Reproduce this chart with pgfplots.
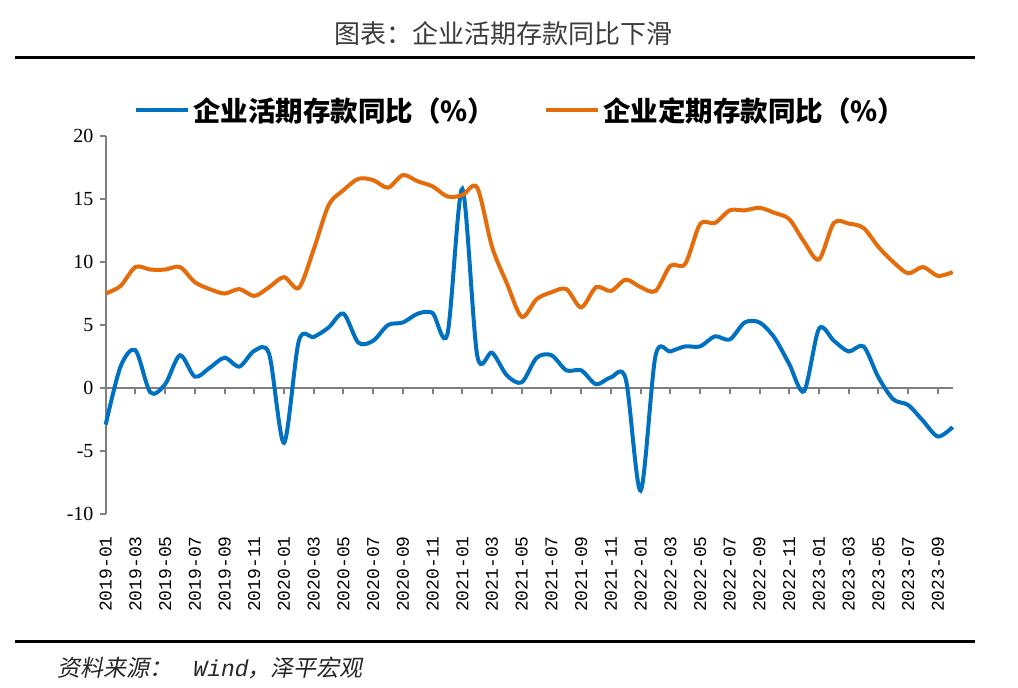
\documentclass[border=0pt]{standalone}
\usepackage{pgfplots}
\pgfplotsset{compat=1.18}
\usepackage{fontspec}
\setmainfont{Liberation Serif}
\setmonofont{Liberation Mono}
\newfontfamily\cjk{Noto Sans CJK SC}
\newfontfamily\cjkit[FakeSlant=0.2]{Noto Sans CJK SC}
\newfontfamily\monoit[FakeSlant=0.2]{Liberation Mono}
\definecolor{axisgray}{RGB}{128,128,128}
\definecolor{cblue}{RGB}{0,112,192}
\definecolor{corange}{RGB}{228,108,10}
\definecolor{titlegray}{RGB}{60,60,60}

\pgfplotstableread{
x y
0 -2.9
1 1.7
2 3.0
3 -0.35
4 0.3
5 2.6
6 0.9
7 1.6
8 2.4
9 1.7
10 2.95
11 2.7
12 -4.35
13 3.75
14 4.05
15 4.8
16 5.9
17 3.6
18 3.75
19 5.0
20 5.2
21 5.9
22 5.95
23 4.3
24 15.8
25 2.6
26 2.8
27 1.0
28 0.45
29 2.4
30 2.6
31 1.4
32 1.4
33 0.3
34 0.85
35 0.7
36 -8.15
37 2.55
38 2.9
39 3.3
40 3.3
41 4.1
42 3.85
43 5.2
44 5.2
45 4.0
46 1.9
47 -0.25
48 4.7
49 3.75
50 2.9
51 3.3
52 0.85
53 -0.9
54 -1.35
55 -2.6
56 -3.85
57 -3.1
}\huoqi

\pgfplotstableread{
x y
0 7.5
1 8.1
2 9.6
3 9.4
4 9.4
5 9.6
6 8.4
7 7.85
8 7.5
9 7.85
10 7.3
11 8.0
12 8.8
13 7.95
14 11.0
15 14.5
16 15.7
17 16.6
18 16.5
19 15.9
20 16.9
21 16.4
22 16.0
23 15.2
24 15.3
25 15.9
26 11.2
27 8.3
28 5.65
29 7.05
30 7.6
31 7.85
32 6.4
33 8.0
34 7.7
35 8.6
36 8.0
37 7.7
38 9.7
39 9.85
40 13.0
41 13.1
42 14.1
43 14.1
44 14.3
45 13.9
46 13.4
47 11.6
48 10.2
49 13.1
50 13.05
51 12.7
52 11.2
53 10.0
54 9.1
55 9.6
56 8.9
57 9.2
}\dingqi

\begin{document}
\begin{tikzpicture}[x=1pt,y=1pt]
\path[use as bounding box] (0,0) rectangle (1018,688);
% title
\node[font=\cjk\fontsize{26}{26}\selectfont, text=titlegray, inner sep=0pt] at (503,654.7) {图表：企业活期存款同比下滑};
\draw[black, line width=3.5pt] (15,630.5) -- (975,630.5);
% footer
\draw[black, line width=3pt] (15,46.3) -- (975,46.3);
\node[font=\cjkit\fontsize{23}{23}\selectfont, anchor=west, inner sep=0pt, text=black!85] at (57,20) {资料来源：\hspace{20pt}{\monoit\fontsize{23}{23}\selectfont Wind}，泽平宏观};

% zero line with ticks
\begin{axis}[
  scale only axis, width=847pt, height=378pt,
  at={(105.7pt,174pt)}, anchor=south west,
  xmin=0, xmax=57, ymin=-10, ymax=20,
  axis x line=middle, axis y line=none,
  x axis line style={-, draw=axisgray, line width=2pt},
  xtick={0,2,...,56}, xticklabels={},
  xtick style={draw=axisgray, line width=2pt},
  tick align=outside, major tick length=6pt,
]
\end{axis}

\begin{axis}[
  scale only axis, width=847pt, height=378pt,
  at={(105.7pt,174pt)}, anchor=south west,
  xmin=0, xmax=57, ymin=-10, ymax=20,
  axis y line=left, axis x line*=bottom,
  y axis line style={-, draw=axisgray, line width=2pt},
  x axis line style={draw=none},
  ytick={-10,-5,...,20},
  ytick style={draw=axisgray, line width=2pt},
  xtick style={draw=none},
  tick align=outside, major tick length=6pt,
  /pgf/number format/assume math mode=true,
  yticklabel style={font=\fontsize{20}{20}\selectfont, inner sep=0pt, xshift=-6pt},
  xtick={0,2,...,56},
  xticklabels={2019-01,2019-03,2019-05,2019-07,2019-09,2019-11,2020-01,2020-03,2020-05,2020-07,2020-09,2020-11,2021-01,2021-03,2021-05,2021-07,2021-09,2021-11,2022-01,2022-03,2022-05,2022-07,2022-09,2022-11,2023-01,2023-03,2023-05,2023-07,2023-09},
  xticklabel style={font=\ttfamily\fontsize{18}{18}\selectfont, rotate=90, anchor=east, inner sep=0pt},
  xticklabel shift=16pt,
  clip=false,
  legend columns=2,
  legend image code/.code={\draw[#1] (0pt,0pt) -- (52pt,0pt);},
  legend style={at={(0.0334,1.0688)}, anchor=west, draw=none, fill=none, inner sep=0pt,
    nodes={inner sep=3pt},
    font=\cjk\bfseries\fontsize{27.5}{27.5}\selectfont,
    /tikz/every even column/.append style={column sep=46pt}},
]
\addplot[cblue, line width=4pt, smooth, tension=0.5] table[x=x,y=y] {\huoqi};
\addlegendentry{企业活期存款同比（\%）}
\addplot[corange, line width=4pt, smooth, tension=0.5] table[x=x,y=y] {\dingqi};
\addlegendentry{企业定期存款同比（\%）}
\end{axis}
\end{tikzpicture}
\end{document}
